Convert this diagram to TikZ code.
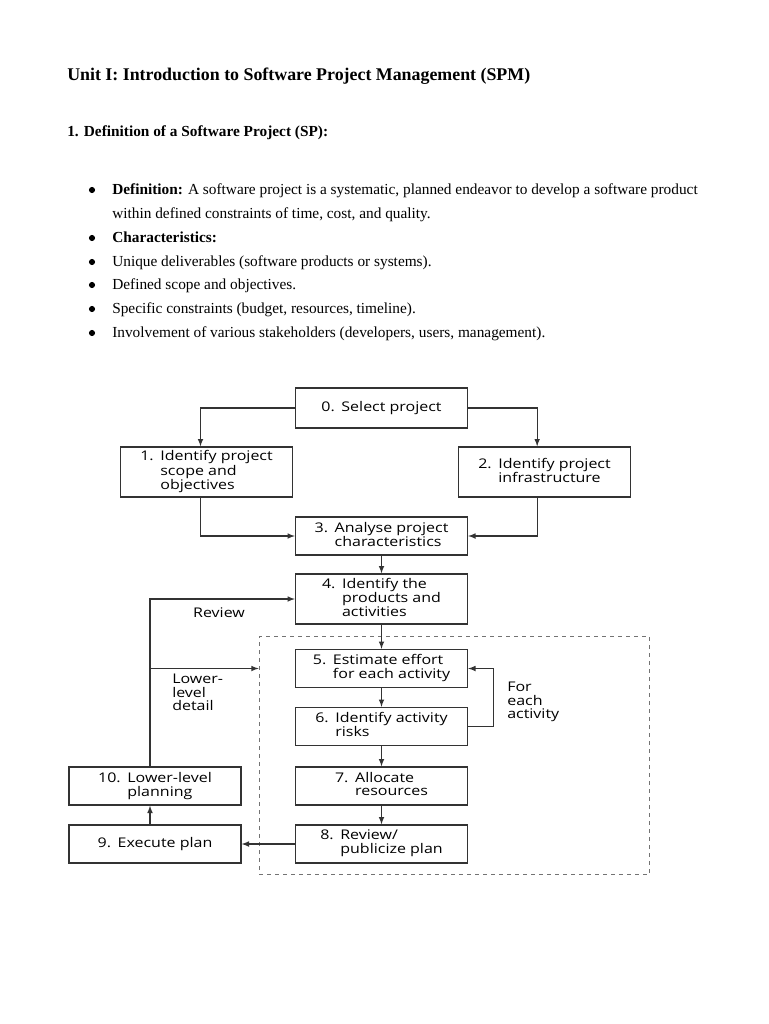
\documentclass[tikz,border=0pt]{standalone}
\usepackage{fontspec}
\setmainfont{Liberation Serif}
\newfontfamily\diagfont[FakeStretch=1.2]{Open Sans}
\usetikzlibrary{arrows,positioning}
\newcommand{\numtext}[2]{\begin{tabular}{@{}l@{\hspace{0.5em}}l@{}}#1&#2\end{tabular}}

\begin{document}
\begin{tikzpicture}[x=0.75pt,y=-0.75pt,
	box/.style={draw=black!80,line width=1pt,minimum width=129pt,minimum height=28.5pt,inner sep=2pt,font=\diagfont\fontsize{10}{10}\selectfont},
	tall/.style={minimum height=37.5pt},
	lbl/.style={inner sep=0pt,align=left,font=\diagfont\fontsize{10}{10}\selectfont},
	to/.style={->,>=latex,line width=0.9pt,draw=black!80},
	txt/.style={anchor=base west,inner sep=0pt,font=\fontsize{11.5}{13}\selectfont},
	dot/.style={circle,fill=black,inner sep=0pt,minimum size=4.6pt}]
\useasboundingbox (0,0) rectangle (768,1024);

% text part
\node[txt,font=\bfseries\fontsize{13.4}{15}\selectfont] (title) at (67,80) {Unit I: Introduction to Software Project Management (SPM)};
\node[txt,font=\bfseries\fontsize{11.5}{13}\selectfont] (head) at (67,137) {1. Definition of a Software Project (SP):};

\node[dot] (d1) at (92,190) {};
\node[txt] (def) at (112,194) {\textbf{Definition:} A software project is a systematic, planned endeavor to develop a software product};
\node[txt] (def2) at (112,218) {within defined constraints of time, cost, and quality.};
\node[dot] (d2) at (92,238) {};
\node[txt] (char) at (112,242) {\textbf{Characteristics:}};
\node[dot] (d3) at (92,262) {};
\node[txt] (uniq) at (112,266) {Unique deliverables (software products or systems).};
\node[dot] (d4) at (92,285) {};
\node[txt] (scope) at (112,289) {Defined scope and objectives.};
\node[dot] (d5) at (92,309) {};
\node[txt] (cons) at (112,313) {Specific constraints (budget, resources, timeline).};
\node[dot] (d6) at (92,333) {};
\node[txt] (stake) at (112,337) {Involvement of various stakeholders (developers, users, management).};

% diagram
\node[draw=black!55,dashed,line width=0.8pt,minimum width=293pt,minimum height=178pt] (act) at (454.5,755.5) {};

\node[box,minimum height=30pt] (b0) at (381.5,408) {\numtext{0.}{Select project}};
\node[box,tall] (b1) at (206.5,472) {\numtext{1.}{Identify project\\&scope and\\&objectives}};
\node[box,tall] (b2) at (544.5,472) {\numtext{2.}{Identify project\\&infrastructure}};
\node[box] (b3) at (381.5,536) {\numtext{3.}{Analyse project\\&characteristics}};
\node[box,tall] (b4) at (381.5,599) {\numtext{4.}{Identify the\\&products and\\&activities}};
\node[box] (b5) at (381.5,668.5) {\numtext{5.}{Estimate effort\\&for each activity}};
\node[box] (b6) at (381.5,726.5) {\numtext{6.}{Identify activity\\&risks}};
\node[box] (b7) at (381.5,786) {\numtext{7.}{Allocate\\&resources}};
\node[box] (b8) at (381.5,844) {\numtext{8.}{Review/\\&publicize plan}};
\node[box] (b9) at (155,844) {\numtext{9.}{Execute plan}};
\node[box] (b10) at (155,786) {\numtext{10.}{Lower-level\\&planning}};

\node[lbl] (review) at (219,613) {Review};
\node[lbl,anchor=north west] (lower) at (172,674) {Lower-\\level\\detail};
\node[lbl,anchor=north west] (each) at (507,682) {For\\each\\activity};

\draw[to] (b0.west) -| ([xshift=-4.5pt]b1.north);
\draw[to] (b0.east) -| ([xshift=-5.5pt]b2.north);
\draw[to] ([xshift=-4.5pt]b1.south) |- (b3.west);
\draw[to] ([xshift=-5.5pt]b2.south) |- (b3.east);
\draw[to] (b3) -- (b4);
\draw[to] (b4) -- (b5);
\draw[to] (b5) -- (b6);
\draw[to] (b6) -- (b7);
\draw[to] (b7) -- (b8);
\draw[to] (b6.east) -- ++(25,0) |- (b5.east);
\draw[to] (b8) -- (b9);
\draw[to] ([xshift=-3.75pt]b9.north) -- ([xshift=-3.75pt]b10.south);
\draw[to] ([xshift=-3.75pt]b10.north) |- (b4.west);
\draw[to] ([xshift=-3.75pt]b10.north |- b5) -- (b5 -| act.west);

\end{tikzpicture}
\end{document}
